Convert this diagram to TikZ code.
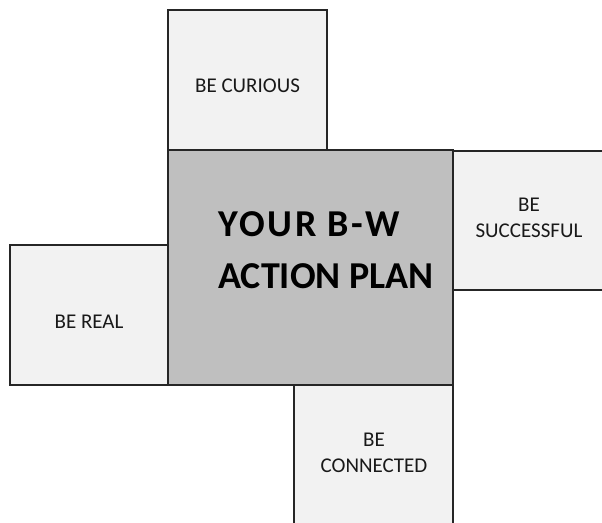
\documentclass[tikz,border=0pt]{standalone}
\usepackage{fontspec}
\setmainfont{Carlito}
\definecolor{lightbox}{HTML}{F2F2F2}
\definecolor{centerbox}{HTML}{BFBFBF}
\begin{document}
\begin{tikzpicture}[x=1pt,y=-1pt,
  side/.style={draw=black!85,line width=1.4pt,fill=lightbox},
  mid/.style={draw=black!85,line width=1.6pt,fill=centerbox},
  lbl/.style={align=center,font=\fontsize{21}{25.5}\selectfont,text=black!90},
  biglbl/.style={align=left,inner sep=0pt,font=\fontsize{38}{52}\selectfont\bfseries}]
\useasboundingbox (0,0) rectangle (602,522);
\begin{scope}
\clip (0,0) rectangle (602,522);
\draw[side] (168,10) rectangle (327,150);
\draw[side] (453,151) rectangle (620,290);
\draw[side] (10,245) rectangle (168,385);
\draw[side] (294,385) rectangle (453,540);
\draw[mid] (168,150) rectangle (453,385);
\end{scope}
\node[lbl] (cur) at (247.5,86) {BE CURIOUS};
\node[lbl] (suc) at (529,218) {BE\\SUCCESSFUL};
\node[lbl] (real) at (89,322) {BE REAL};
\node[lbl] (con) at (374,453) {BE\\CONNECTED};
\node[biglbl,anchor=base west] (plan) at (218,288) {{\addfontfeature{LetterSpace=7}YOUR B-W}\\ACTION PLAN};
\end{tikzpicture}
\end{document}
